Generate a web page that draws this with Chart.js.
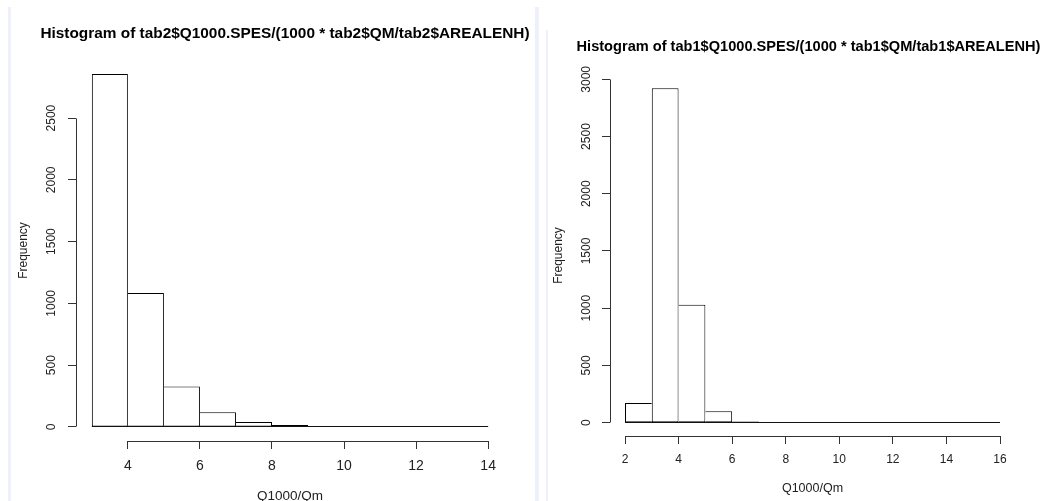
<!DOCTYPE html>
<html>
<head>
<meta charset="utf-8">
<script src="https://cdn.jsdelivr.net/npm/chart.js@4.4.1/dist/chart.umd.min.js"></script>
<style>
  html, body { margin: 0; padding: 0; background: #fff; overflow: hidden; }
  body { width: 1043px; height: 501px; position: relative; font-family: "Liberation Sans", Arial, sans-serif; }
  .strip { position: absolute; background: #eef0fa; }
  canvas { position: absolute; top: 0; }
  .title { position: absolute; width: 500px; text-align: center; white-space: nowrap;
           font-weight: bold; color: #000; z-index: 2; }
</style>
</head>
<body>
<div class="strip" style="left:8px; top:7px; width:3px; height:494px;"></div>
<div class="strip" style="left:535px; top:7px; width:4px; height:494px;"></div>
<div class="strip" style="left:546px; top:30px; width:2px; height:471px;"></div>
<canvas id="hist_tab2" width="532" height="515" style="left:0;"></canvas>
<canvas id="hist_tab1" width="503" height="501" style="left:540px;"></canvas>
<div class="title" id="title_tab2" style="left:35px; top:23.7px; font-size:15.4px; line-height:18.5px;"></div>
<div class="title" id="title_tab1" style="left:558.5px; top:37.9px; font-size:14.6px; line-height:17.5px;"></div>
<script>
// --- left histogram (tab2) ---
const tab2Title = 'Histogram of tab2$Q1000.SPES/(1000 * tab2$QM/tab2$AREALENH)';
const tab2Breaks = [3, 4, 5, 6, 7, 8, 9, 10, 11, 12, 13, 14];
const tab2Counts = [2856, 1084, 326, 119, 40, 16, 6, 2, 1, 0, 1];
const tab2XTicks = [4, 6, 8, 10, 12, 14];
const tab2YTicks = [0, 500, 1000, 1500, 2000, 2500];

// --- right histogram (tab1) ---
const tab1Title = 'Histogram of tab1$Q1000.SPES/(1000 * tab1$QM/tab1$AREALENH)';
const tab1Breaks = [2, 3, 4, 5, 6, 7, 8, 9, 10, 11, 12, 13, 14, 15, 16];
const tab1Counts = [171, 2921, 1030, 99, 10, 2, 1, 0, 0, 0, 0, 0, 0, 1];
const tab1XTicks = [2, 4, 6, 8, 10, 12, 14, 16];
const tab1YTicks = [0, 500, 1000, 1500, 2000, 2500, 3000];

const FONT = '"Liberation Sans", Arial, sans-serif';

document.getElementById('title_tab2').textContent = tab2Title;
document.getElementById('title_tab1').textContent = tab1Title;

// R style: axis line only between first and last tick, plus the bin baseline
const rAxisLines = {
  id: 'rAxisLines',
  afterDraw(chart) {
    const {ctx, chartArea, scales: {x, y}} = chart;
    const breaks = chart.options.plugins.rAxisLines.breaks;
    const al = p => Math.round(p - 0.5) + 0.5;
    ctx.save();
    ctx.strokeStyle = '#333';
    ctx.lineWidth = 1;
    ctx.beginPath();
    const xl = al(chartArea.left);
    ctx.moveTo(xl, al(y.getPixelForValue(y.ticks[0].value)));
    ctx.lineTo(xl, al(y.getPixelForValue(y.ticks[y.ticks.length - 1].value)));
    const yb = al(chartArea.bottom);
    ctx.moveTo(al(x.getPixelForValue(x.ticks[0].value)), yb);
    ctx.lineTo(al(x.getPixelForValue(x.ticks[x.ticks.length - 1].value)), yb);
    ctx.stroke();
    ctx.strokeStyle = '#111';
    ctx.beginPath();
    const y0 = al(y.getPixelForValue(0));
    ctx.moveTo(x.getPixelForValue(breaks[0]), y0);
    ctx.lineTo(x.getPixelForValue(breaks[breaks.length - 1]), y0);
    ctx.stroke();
    ctx.restore();
  }
};

function skipSide(ctx) {
  const d = ctx.dataset.data, i = ctx.dataIndex;
  const cur = d[i].y;
  const next = i + 1 < d.length ? d[i + 1].y : -1;
  const prev = i > 0 ? d[i - 1].y : -1;
  if (next > cur) return 'right';
  if (prev >= cur) return 'left';
  return false;
}

function makeHist(id, o) {
  const top = Math.max(...o.counts);
  const span = o.breaks[o.breaks.length - 1] - o.breaks[0];
  const points = o.counts.map((c, i) => ({x: (o.breaks[i] + o.breaks[i + 1]) / 2, y: c}));
  return new Chart(document.getElementById(id), {
    type: 'bar',
    data: {
      datasets: [{
        data: points,
        backgroundColor: '#ffffff',
        borderColor: '#000',
        borderWidth: 1,
        borderSkipped: skipSide,
        inflateAmount: 0,
        barPercentage: 1,
        categoryPercentage: 1
      }]
    },
    options: {
      responsive: false,
      animation: false,
      layout: {padding: {left: 0, right: o.padRight, top: o.padTop, bottom: 0}},
      plugins: {
        legend: {display: false},
        tooltip: {enabled: false},
        title: {display: false},
        rAxisLines: {breaks: o.breaks}
      },
      scales: {
        x: {
          type: 'linear',
          offset: false,
          min: o.breaks[0] - 0.04 * span,
          max: o.breaks[o.breaks.length - 1] + 0.04 * span,
          afterBuildTicks: s => { s.ticks = o.xTicks.map(v => ({value: v})); },
          afterFit: s => { s.height = o.xAxisH; },
          grid: {offset: false, drawOnChartArea: false, drawTicks: true, tickLength: 8, color: '#333'},
          border: {display: false},
          ticks: {autoSkip: false, maxRotation: 0, padding: o.xTickPad, color: '#222',
                  font: {family: FONT, size: o.xTickSize}, callback: v => String(v)},
          title: {display: true, text: 'Q1000/Qm', color: '#222',
                  font: {family: FONT, size: o.xTitleSize}, padding: {top: 0, bottom: o.xTitlePad}}
        },
        y: {
          min: -0.04 * top,
          max: 1.04 * top,
          afterBuildTicks: s => { s.ticks = o.yTicks.map(v => ({value: v})); },
          afterFit: s => { s.width = o.yAxisW; },
          grid: {drawOnChartArea: false, drawTicks: true, tickLength: 8, color: '#333'},
          border: {display: false},
          ticks: {autoSkip: false, minRotation: 90, maxRotation: 90, crossAlign: 'center',
                  padding: o.yTickPad, color: '#222', font: {family: FONT, size: 12},
                  callback: v => String(v)},
          title: {display: true, text: 'Frequency', color: '#222',
                  font: {family: FONT, size: 12}, padding: {top: o.yTitlePad, bottom: 0}}
        }
      }
    },
    plugins: [rAxisLines]
  });
}

makeHist('hist_tab2', {
  breaks: tab2Breaks, counts: tab2Counts, xTicks: tab2XTicks, yTicks: tab2YTicks,
  padTop: 60, padRight: 28, yAxisW: 76, xAxisH: 74,
  xTickPad: 9, xTickSize: 14, xTitleSize: 13.5, xTitlePad: 10.5,
  yTickPad: 3, yTitlePad: 16.8
});

makeHist('hist_tab1', {
  breaks: tab1Breaks, counts: tab1Counts, xTicks: tab1XTicks, yTicks: tab1YTicks,
  padTop: 75, padRight: 28, yAxisW: 70, xAxisH: 65,
  xTickPad: 8, xTickSize: 12, xTitleSize: 12.5, xTitlePad: 4.8,
  yTickPad: 2, yTitlePad: 11.1
});
</script>
</body>
</html>
